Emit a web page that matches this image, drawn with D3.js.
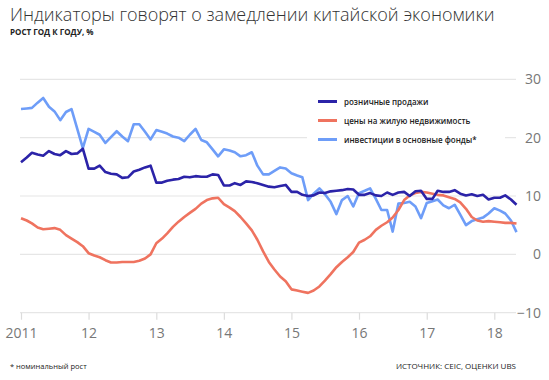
<!DOCTYPE html>
<html>
<head>
<meta charset="utf-8">
<script src="https://cdn.jsdelivr.net/npm/d3@7"></script>
<style>
  body { margin: 0; background: #fff; }
  svg { display: block; font-family: 'Open Sans', 'Noto Sans', sans-serif; }
</style>
</head>
<body>
<div id="chart"></div>
<script>

// monthly values, Jan 2011 - May 2018 (yoy, %)
var retail = [
  15.8,16.6,17.4,17.1,16.9,17.7,17.2,17.0,17.7,17.2,17.3,18.1,
  14.7,14.7,15.2,14.1,13.8,13.7,13.1,13.2,14.2,14.5,14.9,15.2,
  12.3,12.3,12.6,12.8,12.9,13.3,13.2,13.4,13.3,13.3,13.7,13.6,
  11.8,11.8,12.2,11.9,12.5,12.4,12.2,11.9,11.6,11.5,11.7,11.9,
  10.7,10.7,10.2,10.0,10.1,10.6,10.5,10.8,10.9,11.0,11.2,11.1,
  10.2,10.2,10.5,10.1,10.0,10.6,10.2,10.6,10.7,10.0,10.8,10.9,
  9.5,9.5,10.9,10.7,10.7,11.0,10.4,10.1,10.3,10.0,10.2,9.4,
  9.7,9.7,10.1,9.4,8.5
];

var housing = [
  6.2,5.8,5.3,4.6,4.3,4.4,4.5,4.2,3.3,2.7,2.1,1.4,
  0.2,-0.2,-0.5,-1.0,-1.4,-1.4,-1.3,-1.3,-1.3,-1.1,-0.7,0.0,
  1.9,2.7,3.6,4.7,5.6,6.4,7.1,7.8,8.7,9.3,9.6,9.7,
  8.6,8.0,7.4,6.4,5.3,4.1,2.5,0.5,-1.3,-2.6,-3.8,-4.6,
  -6.0,-6.2,-6.4,-6.6,-6.2,-5.5,-4.5,-3.4,-2.2,-1.3,-0.5,0.4,
  2.0,2.5,3.1,4.2,4.9,5.5,6.3,7.6,9.3,10.1,10.5,10.7,
  10.6,10.4,10.2,10.1,9.8,9.5,8.9,7.8,6.4,5.8,5.6,5.7,
  5.6,5.5,5.4,5.4,5.3
];

var investment = [
  24.9,25.0,25.1,26.0,26.8,25.3,24.5,23.0,24.4,24.9,21.5,18.2,
  21.5,21.0,20.5,19.1,20.1,21.1,20.2,19.4,22.3,22.3,21.0,19.7,
  21.3,21.0,20.7,20.2,20.0,19.4,20.5,21.5,19.6,19.2,18.0,16.8,
  18.0,17.8,17.5,16.8,17.0,17.5,15.2,13.7,13.7,14.3,14.9,14.7,
  13.9,13.5,13.2,9.3,10.4,11.3,10.3,9.0,6.9,9.3,10.0,8.2,
  10.5,10.9,11.3,9.5,7.6,7.6,3.9,8.7,8.8,9.0,8.2,6.2,
  8.8,9.1,9.4,8.4,7.9,8.5,6.8,5.0,5.7,6.0,6.3,7.0,
  7.9,7.5,7.0,5.8,3.8
];

var seriesNames = ['розничные продажи', 'цены на жилую недвижимость', 'инвестиции в основные фонды*'];
var seriesColors = ['#2b23a8', '#ef735f', '#6e9df8'];
var yTicks = [-10, 0, 10, 20, 30];
var yearLabels = ['2011', '12', '13', '14', '15', '16', '17', '18'];

var svgWidth = 549;
var svgHeight = 380;

var svg = d3.select('#chart')
    .append('svg')
    .attr('width', svgWidth)
    .attr('height', svgHeight);

var months = d3.range(retail.length).map(i => new Date(2011, i, 1));

var xScale = d3.scaleTime()
    .domain([new Date(2011, 0, 1), new Date(2018, 0, 1)])
    .range([21, 494.3]);

var yScale = d3.scaleLinear()
    .domain([-10, 30])
    .range([312.7, 79.3]);

// title
svg.append('text')
    .attr('x', 10).attr('y', 20.8)
    .attr('font-size', 18)
    .attr('font-weight', 300)
    .attr('fill', '#333')
    .text('Индикаторы говорят о замедлении китайской экономики');

svg.append('text')
    .attr('x', 10).attr('y', 34.8)
    .attr('font-size', 8)
    .attr('font-weight', 700)
    .attr('fill', '#222')
    .text('РОСТ ГОД К ГОДУ, %');

// gridlines
svg.append('g').selectAll('line')
    .data(yTicks)
    .enter()
    .append('line')
    .attr('x1', 20).attr('x2', 516)
    .attr('y1', d => yScale(d)).attr('y2', d => yScale(d))
    .attr('stroke', '#e6e6e6')
    .attr('stroke-width', 1.2);

// y labels on the right
var leftAxis = d3.axisLeft(yScale).tickValues(yTicks).tickSize(0).tickPadding(0);
var yAxisG = svg.append('g')
    .attr('transform', 'translate(541,0)')
    .call(leftAxis);
yAxisG.select('.domain').remove();
yAxisG.selectAll('text')
    .attr('font-size', 14)
    .attr('font-family', "'Open Sans', sans-serif")
    .attr('fill', '#777');

// x axis
var bottomAxis = d3.axisBottom(xScale)
    .tickValues(yearLabels.map((d, i) => new Date(2011 + i, 0, 1)))
    .tickSize(7)
    .tickPadding(8)
    .tickFormat((d, i) => yearLabels[i]);
var xAxisG = svg.append('g')
    .attr('transform', `translate(0,${yScale(-10)})`)
    .call(bottomAxis);
xAxisG.select('.domain').remove();
xAxisG.selectAll('line').attr('stroke', '#dcdcdc').attr('stroke-width', 1.2);
xAxisG.selectAll('text')
    .attr('font-size', 14)
    .attr('font-family', "'Open Sans', sans-serif")
    .attr('fill', '#777');

// legend background hides the gridline
svg.append('rect')
    .attr('x', 307).attr('y', 88)
    .attr('width', 198).attr('height', 64)
    .attr('fill', '#fff');

// lines
var line = d3.line()
    .x((d, i) => xScale(months[i]))
    .y(d => yScale(d));

var allSeries = [investment, housing, retail];
var allColors = [seriesColors[2], seriesColors[1], seriesColors[0]];

svg.append('g').selectAll('path')
    .data(allSeries)
    .enter()
    .append('path')
    .attr('d', d => line(d))
    .attr('fill', 'none')
    .attr('stroke', (d, i) => allColors[i])
    .attr('stroke-width', 2.6)
    .attr('stroke-linejoin', 'round');

// legend
var legend = svg.append('g').selectAll('g')
    .data(seriesNames)
    .enter()
    .append('g')
    .attr('transform', (d, i) => `translate(318,${101.5 + i * 19})`);

legend.append('line')
    .attr('x1', 0).attr('x2', 19)
    .attr('stroke', (d, i) => seriesColors[i])
    .attr('stroke-width', 3);

legend.append('text')
    .attr('x', 26).attr('y', 3)
    .attr('font-size', 8)
    .attr('font-weight', 600)
    .attr('fill', '#222')
    .text(d => d);

// footer
svg.append('text')
    .attr('x', 10).attr('y', 369)
    .attr('font-size', 7.5)
    .attr('fill', '#222')
    .text('* номинальный рост');

svg.append('text')
    .attr('x', 516).attr('y', 369)
    .attr('text-anchor', 'end')
    .attr('font-size', 8)
    .attr('fill', '#222')
    .text('ИСТОЧНИК: CEIC, ОЦЕНКИ UBS');

</script>
</body>
</html>
